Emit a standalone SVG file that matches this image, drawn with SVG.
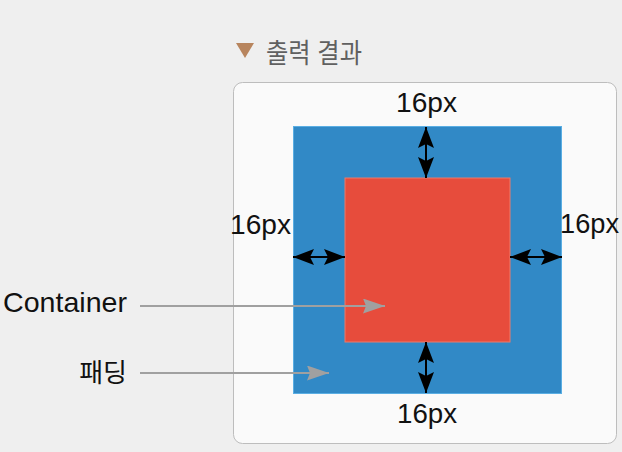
<svg xmlns="http://www.w3.org/2000/svg" width="622" height="452" viewBox="0 0 622 452">
  <style>
    .t { font-family: "Liberation Sans", "Noto Sans CJK KR", sans-serif; fill: #111; }
    .px { font-size: 28px; }
    .blk { stroke: #000; stroke-width: 2; fill: none; }
    .gry { stroke: #a0a0a0; stroke-width: 2; fill: none; }
  </style>
  <defs>
    <marker id="ah" viewBox="0 0 21 16" refX="21" refY="8" markerWidth="21" markerHeight="16" markerUnits="userSpaceOnUse" orient="auto-start-reverse">
      <path d="M0,0 L21,8 L0,16 L4,8 Z" fill="#000"/>
    </marker>
    <marker id="ag" viewBox="0 0 22 15" refX="22" refY="7.5" markerWidth="22" markerHeight="15" markerUnits="userSpaceOnUse" orient="auto">
      <path d="M0,0 L22,7.5 L0,15 L3,7.5 Z" fill="#a0a0a0"/>
    </marker>
  </defs>
  <rect width="622" height="452" fill="#efefef"/>

  <g id="title">
    <polygon points="236,43 254,43 245,58" fill="#b8855e"/>
    <text class="t" x="266" y="63" font-size="27" textLength="96" lengthAdjust="spacingAndGlyphs" style="fill:#606060">출력 결과</text>
  </g>

  <g id="card">
    <rect x="233.5" y="82.5" width="383" height="361" rx="9" fill="#fafafa" stroke="#bdbdbd" stroke-width="1"/>
  </g>

  <g id="padding-box">
    <rect x="293.5" y="126.5" width="268" height="267" fill="#3189c6" stroke="#5aaee3" stroke-width="1"/>
  </g>

  <g id="content-box">
    <rect x="345" y="178" width="165" height="164" fill="#e74c3c" stroke="#ee7a6a" stroke-width="1"/>
  </g>

  <g id="label-top"><text class="t px" x="396" y="112" textLength="61" lengthAdjust="spacingAndGlyphs">16px</text></g>
  <g id="label-left"><text class="t px" x="230" y="234" textLength="61" lengthAdjust="spacingAndGlyphs">16px</text></g>
  <g id="label-right"><text class="t px" x="560" y="233" textLength="59" lengthAdjust="spacingAndGlyphs">16px</text></g>
  <g id="label-bottom"><text class="t px" x="397" y="423" textLength="60" lengthAdjust="spacingAndGlyphs">16px</text></g>
  <g id="label-container"><text class="t" x="3" y="312" font-size="28" textLength="124" lengthAdjust="spacingAndGlyphs">Container</text></g>
  <g id="label-padding"><text class="t" x="127" y="382" font-size="26" text-anchor="end">패딩</text></g>

  <g id="connectors">
    <line class="blk" x1="426" y1="127" x2="426" y2="178" marker-start="url(#ah)" marker-end="url(#ah)"/>
    <line class="blk" x1="426" y1="342" x2="426" y2="393" marker-start="url(#ah)" marker-end="url(#ah)"/>
    <line class="blk" x1="293" y1="257" x2="345" y2="257" marker-start="url(#ah)" marker-end="url(#ah)"/>
    <line class="blk" x1="510" y1="257" x2="562" y2="257" marker-start="url(#ah)" marker-end="url(#ah)"/>
    <line class="gry" x1="140" y1="306" x2="385" y2="306" marker-end="url(#ag)"/>
    <line class="gry" x1="140" y1="373" x2="329" y2="373" marker-end="url(#ag)"/>
  </g>
</svg>
